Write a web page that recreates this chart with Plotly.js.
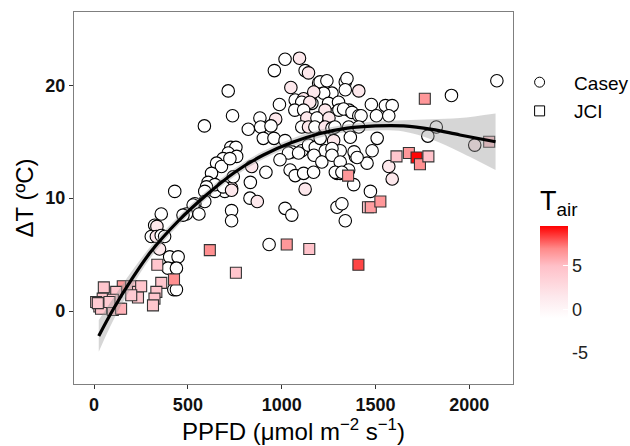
<!DOCTYPE html>
<html>
<head>
<meta charset="utf-8">
<script src="https://cdn.plot.ly/plotly-3.0.1.min.js"></script>
<style>html,body{margin:0;padding:0;background:#fff;}#chart{width:630px;height:446px;}</style>
</head>
<body>
<div id="chart"></div>
<script>
// Casey site (circles): PPFD, ΔT, Tair
var caseyPPFD = [715,1018,961,1095,1049,988,1125,1143,1072,1117,1161,1197,1205,1241,1339,1348,1339,1411,1268,1224,1171,1905,2147,1107,1150,1250,1303,1478,1553,1589,
  738,588,884,968,822,888,943,1070,1117,1161,1197,1231,1305,1359,1330,1375,1411,1423,1505,1571,1134,1188,1252,1107,1143,1177,1231,1268,1284,1357,1411,1824,1779,
  902,959,1018,729,756,715,1054,1107,1143,1179,1277,1312,1366,1509,1205,1232,1268,1482,1393,1455,2029,1172,1214,1386,1036,1090,
  688,653,679,626,608,840,916,991,1045,1072,1117,1170,1295,1312,1268,1312,1357,1402,1571,1589,760,724,1286,1321,
  833,733,742,697,644,644,688,430,599,1125,1384,1473,831,870,590,733,
  590,537,528,1018,733,733,559,492,474,358,1054,1295,1321,1339,
  323,335,305,332,358,376,349,933,403,448,394,439,425,439];
var caseyDT = [19.5,22.3,21.3,22.4,19.8,18.3,21.3,21.1,18.7,18.8,18.4,20.2,20.3,20.4,20.3,20.6,19.6,19.5,19.3,19.3,19.4,19.1,20.4,18.5,18.5,18.4,18.5,18.3,18.2,18.2,
  17.3,16.4,17.1,17.0,16.1,16.3,16.4,17.8,17.8,16.9,17.1,17.8,17.8,17.8,17.9,17.6,17.3,17.3,17.3,17.3,17.1,17.1,17.1,16.3,16.3,16.3,16.3,16.2,16.3,16.3,16.3,16.3,15.5,
  15.3,15.3,15.1,14.5,14.5,14.0,14.1,14.2,14.7,14.5,15.1,14.2,15.4,15.3,15.3,14.2,14.4,14.2,13.7,13.1,14.7,13.8,13.2,14.1,14.0,14.0,
  13.5,13.1,12.8,12.2,11.4,12.8,12.3,13.4,12.5,12.0,12.2,12.3,12.2,12.2,13.8,13.2,12.5,13.6,12.8,11.7,13.7,13.5,12.3,12.3,
  11.4,10.9,11.9,10.6,10.6,11.2,11.0,10.6,11.0,10.8,11.2,10.6,10.0,9.7,10.6,10.7,
  9.7,9.5,9.4,9.1,8.9,8.0,8.6,8.6,8.5,8.6,8.5,9.2,9.5,8.0,
  7.6,7.5,6.6,6.6,6.7,6.6,5.5,5.9,4.8,4.8,3.8,3.8,1.9,1.9];
var caseyTair = [-1,-1,-1,1.5,1.5,-1,-1,1.5,-1,1.5,-1,-1,-1,-1,-1,-1,-1,1.5,-1,-1,1.5,-1,-1,-1,1.5,-1,-1,-1,-1,-1,
  -1,-1,-1,1.5,-1,-1,-1,-1,-1,-1,-1,1.5,-1,-1,-1,-1,-1,-1,-1,-1,1.5,-1,1.5,-1,1.5,-1,1.5,-1,-1,-1,-1,-1,-1,
  -1,-1,-1,-1,-1,-1,-1,-1,-1,-1,1.5,-1,-1,-1,-1,-1,-1,-1,-1,-1,1.5,-1,-1,-1,-1,-1,
  -1,-1,-1,-1,-1,1.5,-1,-1,-1,-1,-1,-1,-1,-1,-1,-1,-1,-1,1.5,1.5,-1,-1,-1,-1,
  -1,1.5,-1,-1,-1,-1,-1,-1,-1,1.5,-1,-1,-1,1.5,-1,1.5,
  -1,-1,-1,-1,-1,-1,-1,-1,-1,-1,-1,-1,-1,-1,
  -1,1.5,-1,1.5,-1,-1,1.5,-1,-1,-1,-1,-1,-1,-1];

// JCI site (squares): PPFD, ΔT, Tair
var jciPPFD = [52,153,118,46,28,82,135,198,234,234,251,198,11,100,73,37,100,144,20,82,
  337,426,358,332,322,314,617,756,1027,1147,1409,1354,1460,1475,1526,1763,1612,1678,1719,1737,1782,2106];
var jciDT = [2.1,2.2,1.7,1.1,0.4,0.4,0.2,2.2,1.7,1.2,2.2,1.4,0.8,1.0,0.7,0.2,0.1,0.2,0.7,0.8,
  4.1,2.8,2.5,1.7,1.1,0.5,5.4,3.4,5.9,5.5,4.1,12.0,9.2,9.2,9.7,18.8,13.7,14.0,13.6,13.0,13.7,15.0];
var jciTair = [4.5,6.5,4.5,4.5,4,4.5,6,4.5,4.5,4.5,4.5,4,4,4.5,4,4.5,4.5,5.5,4,4,
  4.5,6.8,4.5,4.5,4.5,4.5,6.8,4.5,6.5,4.8,8.3,6.5,4.5,6.3,6.5,6.5,4.5,6.5,9.5,6.8,4.8,4.5];

// smooth fit: PPFD, fitted ΔT, half-width of confidence band
var fitPPFD = [25,100,200,300,450,600,750,900,1050,1200,1350,1500,1650,1800,1950,2140];
var fitDT   = [-2.2,0.1,2.8,5.2,8.0,10.3,12.3,13.8,14.9,15.7,16.2,16.4,16.4,16.1,15.6,15.0];
var fitHalf = [1.4,1.0,0.7,0.5,0.4,0.35,0.35,0.35,0.35,0.35,0.35,0.4,0.5,0.9,1.5,2.5];

var xTicks = [0,500,1000,1500,2000];
var yTicks = [0,10,20];
var cTicks = [-5,0,5];

var cmin = -5.7, cmax = 9.6;
function t(v){ return (v - cmin) / (cmax - cmin); }
var cscale = [[0,'#ffffff'],[t(-1),'#ffffff'],[t(1.5),'#fde8ec'],[t(5),'#ffc0c8'],[t(7),'#ff8a8a'],[1,'#ff0000']];

var lo = fitDT.map(function(v,i){return v - fitHalf[i];});
var hi = fitDT.map(function(v,i){return v + fitHalf[i];});

var font = 'Liberation Sans, Arial, sans-serif';

var traces = [
  {x: caseyPPFD, y: caseyDT, type:'scatter', mode:'markers', showlegend:false, hoverinfo:'skip',
   marker:{symbol:'circle', size:12.5, color: caseyTair, cmin:cmin, cmax:cmax, colorscale:cscale,
     line:{color:'#000', width:1.1}, showscale:true,
     colorbar:{title:{text:'T<sub>air</sub>', side:'top', font:{family:font, size:27, color:'#000'}},
       x:1.0615, xanchor:'left', xpad:0, y:0.0672, yanchor:'bottom', ypad:0,
       len:172, lenmode:'pixels', thickness:28, outlinewidth:0,
       tickvals:cTicks, ticktext:cTicks.map(String), ticks:'inside', ticklen:5, tickcolor:'#fff',
       tickfont:{family:font, size:18, color:'#222'}}}},
  {x: jciPPFD, y: jciDT, type:'scatter', mode:'markers', showlegend:false, hoverinfo:'skip',
   marker:{symbol:'square', size:11, color: jciTair, cmin:cmin, cmax:cmax, colorscale:cscale,
     line:{color:'#333', width:1.1}, showscale:false}},
  {x: fitPPFD, y: lo, type:'scatter', mode:'lines', line:{width:0, shape:'spline'}, showlegend:false, hoverinfo:'skip'},
  {x: fitPPFD, y: hi, type:'scatter', mode:'lines', line:{width:0, shape:'spline'}, fill:'tonexty',
   fillcolor:'rgba(153,153,153,0.4)', showlegend:false, hoverinfo:'skip'},
  {x: fitPPFD, y: fitDT, type:'scatter', mode:'lines', line:{color:'#000', width:3.2, shape:'spline'}, showlegend:false, hoverinfo:'skip'},
  {x:[null], y:[null], type:'scatter', mode:'markers', name:'Casey', legendgroup:'a',
   marker:{symbol:'circle', size:10, color:'#fff', line:{color:'#000', width:1}}},
  {x:[null], y:[null], type:'scatter', mode:'markers', name:'JCI', legendgroup:'b',
   marker:{symbol:'square', size:10, color:'#fff', line:{color:'#000', width:1}}}
];

var layout = {
  width:630, height:446,
  margin:{l:74, r:117, t:12, b:62, autoexpand:false},
  paper_bgcolor:'#fff', plot_bgcolor:'#fff',
  showlegend:true,
  legend:{x:0.982, xanchor:'left', y:0.862, yanchor:'top', tracegroupgap:1, itemwidth:59,
    font:{family:font, size:19, color:'#000'}, bgcolor:'rgba(0,0,0,0)', traceorder:'grouped'},
  xaxis:{range:[-107,2233], tickvals:xTicks, ticktext:xTicks.map(String), ticks:'outside', ticklen:4,
    tickcolor:'#333', tickwidth:1.1, showgrid:false, zeroline:false, showline:true, mirror:true,
    linecolor:'#7f7f7f', linewidth:1.2,
    tickfont:{family:font, size:18, color:'#111', weight:700},
    title:{text:'PPFD (μmol m<sup>−2</sup> s<sup>−1</sup>)', font:{family:font, size:24, color:'#000'}, standoff:2}},
  yaxis:{range:[-6.46,26.49], tickvals:yTicks, ticktext:yTicks.map(String), ticks:'outside', ticklen:4,
    tickcolor:'#333', tickwidth:1.1, showgrid:false, zeroline:false, showline:true, mirror:true,
    linecolor:'#7f7f7f', linewidth:1.2,
    tickfont:{family:font, size:18, color:'#111', weight:700},
    title:{text:'ΔT (ºC)', font:{family:font, size:24, color:'#000'}, standoff:4}}
};

Plotly.newPlot('chart', traces, layout, {displayModeBar:false, staticPlot:true});
</script>
</body>
</html>
